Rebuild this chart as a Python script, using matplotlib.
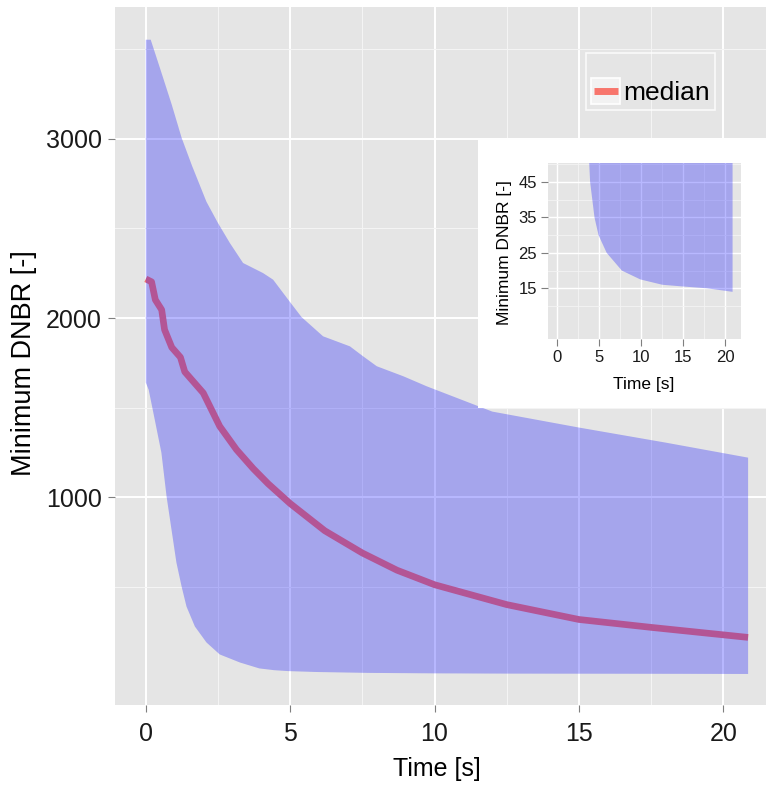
import matplotlib
matplotlib.use('Agg')
import matplotlib.pyplot as plt
from matplotlib.patches import Rectangle
from matplotlib.lines import Line2D
from matplotlib.legend_handler import HandlerBase

plt.rcParams['font.family'] = ['Liberation Sans', 'DejaVu Sans']

# band limits and median
t_upper = [0, 0.17, 0.5, 0.9, 1.24, 1.6, 2.1, 2.5, 2.91, 3.37, 4.06, 4.41, 4.93,
           5.39, 6.14, 7.07, 7.53, 8.0, 8.92, 9.73, 12, 15, 18, 20.86]
upper = [3553, 3553, 3390, 3190, 3006, 2850, 2649, 2530, 2419, 2307, 2251, 2214, 2103,
         2006, 1898, 1842, 1786, 1731, 1675, 1619, 1478, 1389, 1305, 1221]

t_lower = [0, 0.1, 0.31, 0.54, 0.72, 0.89, 1.06, 1.24, 1.41, 1.7, 2.1, 2.56, 3.26,
           3.93, 4.45, 4.93, 5.9, 7.7, 9.9, 12.5, 15, 17.8, 20.86]
lower = [1640, 1600, 1433, 1249, 1004, 820, 636, 502, 390, 279, 190, 123, 78,
         45, 35, 30, 25, 20, 17.5, 16, 15.5, 15, 14]

t_med = [0, 0.2, 0.33, 0.55, 0.65, 0.9, 1.2, 1.35, 1.99, 2.56, 3.14, 3.72, 4.24,
         5, 6.2, 7.5, 8.7, 10, 12.5, 15, 17.5, 20.86]
median = [2218, 2202, 2102, 2046, 1935, 1836, 1781, 1700, 1582, 1396, 1266, 1160, 1075,
          965, 813, 689, 593, 512, 401, 318, 274, 218]

x_ticks = [0, 5, 10, 15, 20]
x_minor = [2.5, 7.5, 12.5, 17.5]
y_ticks = [1000, 2000, 3000]
y_minor = [500, 1500, 2500, 3500]
in_y_ticks = [15, 25, 35, 45]
in_y_minor = [10, 20, 30, 40, 50]

band_x = t_lower + t_upper[::-1]
band_y = lower + upper[::-1]


class KeyBox(HandlerBase):
    def create_artists(self, legend, orig_handle, xdescent, ydescent, width, height, fontsize, trans):
        box = Rectangle((-xdescent, -ydescent), width, height, facecolor='#f2f2f2',
                        edgecolor='white', lw=1.2, transform=trans)
        pad = 0.1 * width
        ln = Line2D([-xdescent + pad, -xdescent + width - pad], [-ydescent + height / 2] * 2,
                    color=orig_handle.get_color(), lw=5, solid_capstyle='butt', transform=trans)
        return [box, ln]


def style(ax, xt, xm, yt, ym, fs, major_lw, minor_lw):
    ax.set_facecolor('#e5e5e5')
    for s in ax.spines.values():
        s.set_visible(False)
    ax.set_xticks(xt)
    ax.set_xticks(xm, minor=True)
    ax.set_yticks(yt)
    ax.set_yticks(ym, minor=True)
    ax.grid(which='major', color='white', lw=major_lw)
    ax.grid(which='minor', color='#f4f4f4', lw=minor_lw)
    ax.set_axisbelow(True)
    ax.tick_params(which='minor', length=0)
    ax.tick_params(which='major', color='#7f7f7f', labelcolor='#1a1a1a', labelsize=fs)


fig = plt.figure(figsize=(7.66, 7.87), dpi=100)

ax = fig.add_axes([0.150, 0.104, 0.850, 0.887])
style(ax, x_ticks, x_minor, y_ticks, y_minor, 18, 1.4, 0.8)
ax.tick_params(axis='x', which='major', length=5, pad=7)
ax.tick_params(axis='y', which='major', length=5, pad=4.5)
med_line, = ax.plot(t_med, median, color='#F8766D', lw=4.8, solid_capstyle='butt',
                    zorder=2, label='median')
ax.fill(band_x, band_y, color='blue', alpha=0.28, lw=0, zorder=3)
ax.set_xlim(-1.07, 21.48)
ax.set_ylim(-160, 3735)
ax.set_xlabel('Time [s]', fontsize=18)
ax.set_ylabel('Minimum DNBR [-]', fontsize=19.5)
ax.xaxis.set_label_coords(0.495, -0.0745)
ax.yaxis.set_label_coords(-0.12, 0.49)

leg = ax.legend(handles=[med_line], loc='upper right', bbox_to_anchor=(0.9217, 0.9345),
                fontsize=19, frameon=True, fancybox=False, borderpad=0.2, borderaxespad=0,
                handlelength=1.1, handleheight=1.1, handletextpad=0.1,
                title=' ', title_fontsize=6,
                handler_map={Line2D: KeyBox()})
leg.get_frame().set_facecolor('none')
leg.get_frame().set_edgecolor('white')
leg.get_frame().set_linewidth(1.2)

# white box behind the inset
bg = fig.add_axes([0.624, 0.4816, 0.376, 0.3405])
bg.set_facecolor('white')
bg.set_xticks([])
bg.set_yticks([])
for s in bg.spines.values():
    s.set_visible(False)

ins = fig.add_axes([0.7158, 0.5689, 0.252, 0.2236])
style(ins, x_ticks, x_minor, in_y_ticks, in_y_minor, 12, 1.0, 0.6)
ins.tick_params(which='major', length=5, pad=3)
ins.plot(t_med, median, color='#F8766D', lw=3, zorder=2)
ins.fill(band_x, band_y, color='blue', alpha=0.28, lw=0, zorder=3)
ins.set_xlim(-1.04, 21.9)
ins.set_ylim(0.6, 50.3)
ins.set_xlabel('Time [s]', fontsize=12.5)
ins.set_ylabel('Minimum DNBR [-]', fontsize=12.5)
ins.xaxis.set_label_coords(0.496, -0.212)
ins.yaxis.set_label_coords(-0.188, 0.493)

fig.savefig('out.png', dpi=100)
